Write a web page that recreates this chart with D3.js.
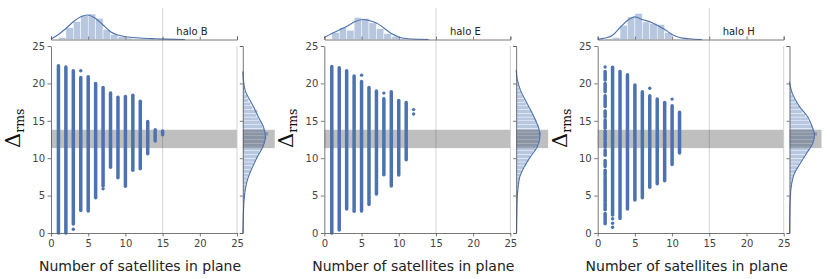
<!DOCTYPE html>
<html>
<head>
<meta charset="utf-8">
<script src="https://cdn.jsdelivr.net/npm/d3@7"></script>
<style>
    body { margin: 0; background: #fff; }
    svg text { font-family: "DejaVu Sans", sans-serif; }
    .axis path, .axis line { stroke: #555; stroke-width: 0.8; }
    .axis text { fill: #444; font-size: 10px; }
</style>
</head>
<body>
<svg id="chart" width="830" height="279"></svg>
<script>
const halos = ['halo B', 'halo E', 'halo H'];
const ticks = [0, 5, 10, 15, 20, 25];
const band = [11.35, 13.8];
const refLine = 15;

// vertical strips: [satellites, lowest Δrms, highest Δrms]
const strips = [
    [[1, 0, 22.35], [2, 0, 22.2], [3, 1.2, 21.7], [4, 3.0, 20.8], [5, 2.95, 20.9], [6, 4.7, 20.0],
     [7, 6.3, 19.45], [8, 8.8, 18.7], [9, 7.4, 18.15], [10, 6.25, 18.25], [11, 8.4, 18.4],
     [12, 8.6, 17.6], [13, 10.6, 14.9], [14, 12.3, 13.8], [15, 13.15, 13.65]],
    [[1, 0, 22.25], [2, 0.4, 22.1], [3, 3.2, 21.7], [4, 2.9, 21.0], [5, 2.95, 20.25], [6, 3.8, 19.45],
     [7, 5.2, 19.0], [8, 7.8, 17.95], [9, 6.3, 18.9], [10, 7.75, 17.7], [11, 9.8, 17.45]],
    [[1, 20.45, 21.6], [1, 18.9, 20.0], [1, 16.9, 18.35], [1, 15.5, 16.3], [1, 14.0, 15.1],
     [1, 12.5, 13.6], [1, 11.5, 12.2], [1, 10.4, 11.1], [1, 8.9, 9.7], [1, 7.75, 8.4],
     [1, 6.6, 7.5], [1, 5.3, 6.4], [1, 4.2, 5.1], [1, 3.1, 3.95], [1, 1.96, 2.6], [1, 1.25, 1.74],
     [2, 2.4, 22.15], [3, 1.95, 21.6], [4, 3.2, 21.15], [5, 4.4, 19.8], [6, 4.7, 18.9],
     [7, 6.1, 18.35], [8, 6.6, 17.9], [9, 7.0, 17.45], [10, 9.15, 17.0], [11, 10.7, 16.15]]
];

// single points away from the strips: [satellites, Δrms]
const dots = [
    [[3, 0.5], [4, 21.7], [7, 5.9]],
    [[5, 21.1], [8, 18.7], [12, 16.5], [12, 15.9]],
    [[1, 22.2], [2, 1.9], [2, 1.3], [2, 0.76], [7, 19.35], [10, 17.9]]
];

// top marginal histogram, bins of width 1 starting at 1 (relative density)
const topHist = [
    [2.2, 11.8, 17.8, 23.8, 25.5, 21.2, 10.2, 5.2, 2.8, 1.5, 1.0, 0.7, 0.5, 0.3],
    [7, 12, 9.3, 22, 21, 16.6, 11, 6, 3, 1],
    [0.5, 2, 14.3, 22.6, 26, 17.6, 16, 15, 7, 0.5]
];

// top marginal kde: [satellites, density]
const topKde = [
    [[0, 0.5], [1, 5], [2, 11], [3, 17.8], [4, 22.8], [4.9, 24.5], [6, 21], [7, 14.5], [8, 7.8],
     [9, 4.5], [10, 2.8], [12, 1.5], [14, 0.8], [15.5, 0.4], [18, 0]],
    [[0, 2], [1, 6], [2, 9.5], [3, 13], [4, 17.5], [5.2, 20], [6, 19], [7, 16.5], [8, 11.5],
     [9, 6], [10, 2.6], [11, 1], [12.8, 0.2], [14, 0]],
    [[0, 0.3], [1, 1.5], [2, 4.3], [3, 12], [4, 19], [5, 22.6], [6, 20], [7, 17.7], [8, 14.3],
     [9, 10], [10, 5], [11, 2], [12.3, 0.7], [14, 0]]
];

// right marginal histogram, bins of width 0.5 starting at 0 (relative density)
const sideHist = [
    [0.3, 0.4, 0.5, 0.5, 0.6, 0.8, 0.9, 1.0, 1.2, 1.5, 1.9, 2.4, 3.0, 3.8, 4.8, 6.0, 7.5, 9.0,
     11.0, 12.8, 15.0, 17.0, 19.0, 20.8, 22.0, 23.5, 25.5, 21.5, 20.0, 18.0, 16.0, 14.0, 14.8,
     10.0, 8.0, 6.0, 4.5, 3.0, 2.0, 1.4, 0.9, 0.6, 0.4, 0.3],
    [0.3, 0.3, 0.4, 0.5, 0.6, 0.6, 0.7, 0.8, 0.9, 1.1, 1.3, 1.6, 2.0, 2.6, 3.2, 4.2, 5.8, 7.8,
     10, 12.2, 14.6, 17, 19.6, 21.8, 23, 24, 25, 23.4, 22.4, 20.6, 19, 17, 15, 12.8, 10.6, 8.6,
     6.8, 5, 3.8, 2.6, 1.6, 1, 0.5, 0.3],
    [0.1, 0.2, 0.2, 0.2, 0.3, 0.3, 0.4, 0.4, 0.6, 0.8, 1.0, 1.3, 1.8, 2.4, 3.2, 4.2, 5.8, 7.6,
     10.2, 12.6, 15, 17.6, 19.8, 22.2, 23.6, 25, 27.6, 24, 22.6, 20.4, 18.6, 16, 13, 10.4, 7.8,
     5.6, 3.8, 2.4, 1.4, 0.8, 0.4, 0.2, 0.1, 0]
];

// right marginal kde: [Δrms, density]
const sideKde = [
    [[0, 0], [2.2, 0.5], [4.4, 1.3], [6.2, 3], [7.5, 5.6], [8.9, 10], [10.2, 14.6], [11.5, 20],
     [12.9, 22.6], [14.2, 20.6], [15.5, 15.6], [16.9, 10.6], [19.1, 2.3], [20.5, 0.6], [21.6, 0]],
    [[0, 0.3], [2, 0.6], [4.4, 1], [6.2, 2], [7.5, 3.6], [8.9, 8.3], [10.2, 14.3], [11.5, 21],
     [12.7, 23.6], [13.8, 23], [15.1, 19.3], [16.9, 12.6], [19.1, 4.3], [20.5, 1.2], [21.8, 0]],
    [[0, 0], [2, 0.2], [4.4, 0.7], [6.2, 1.7], [8, 5], [9.3, 10.7], [10.7, 17.3], [12, 23.3],
     [13.1, 25], [14.2, 22.7], [15.5, 18.3], [16.9, 10], [18.7, 2.7], [20.2, 0]]
];

const BLUE = '#4c72b0';
const W = 186;
const STEP = 273.35;
const TOP = 46, BOTTOM = 233;

const svg = d3.select('#chart');

drawPanel = (i) => {
    const x0 = 51 + i * STEP;
    const spineX = x0 + W + 5.8;
    const g = svg.append('g').classed('panel', true);

    const x = d3.scaleLinear().domain([0, 25]).range([x0, x0 + W]);
    const y = d3.scaleLinear().domain([0, 25]).range([BOTTOM, TOP]);
    const topY = d3.scaleLinear().domain([0, 32]).range([39.5, 7.5]);
    const sideX = d3.scaleLinear().domain([0, 32]).range([spineX, spineX + 32]);

    // reference line
    g.append('line')
        .attr('x1', x(refLine)).attr('x2', x(refLine))
        .attr('y1', 8).attr('y2', BOTTOM)
        .attr('stroke', '#d4d4d4').attr('stroke-width', 1);

    // top marginal
    g.append('g').selectAll('rect')
        .data(topHist[i])
        .enter()
        .append('rect')
        .attr('x', (d, k) => x(1 + k))
        .attr('width', x(1) - x(0))
        .attr('y', d => topY(d))
        .attr('height', d => topY(0) - topY(d))
        .attr('fill', BLUE).attr('fill-opacity', 0.4)
        .attr('stroke', '#fff').attr('stroke-width', 0.5);

    g.append('path')
        .datum(topKde[i])
        .attr('fill', 'none')
        .attr('stroke', BLUE).attr('stroke-width', 1.1)
        .attr('d', d3.line().x(d => x(d[0])).y(d => topY(d[1])).curve(d3.curveMonotoneX));

    g.append('g')
        .classed('axis', true)
        .attr('transform', `translate(0, ${topY(0)})`)
        .call(d3.axisTop(x).tickValues(ticks).tickFormat('').tickSize(3).tickSizeOuter(3));

    g.append('text')
        .attr('x', x0 + 141).attr('y', 34.5)
        .attr('text-anchor', 'middle')
        .attr('font-size', 10).attr('fill', '#222')
        .text(halos[i]);

    // band behind the points
    g.append('rect')
        .attr('x', x(0)).attr('width', x(25) - x(0))
        .attr('y', y(band[1])).attr('height', y(band[0]) - y(band[1]))
        .attr('fill', '#000').attr('fill-opacity', 0.25);

    // strips
    g.append('g').selectAll('line')
        .data(strips[i])
        .enter()
        .append('line')
        .attr('x1', d => x(d[0])).attr('x2', d => x(d[0]))
        .attr('y1', d => y(d[1])).attr('y2', d => y(d[2]))
        .attr('stroke', BLUE).attr('stroke-width', 3.5)
        .attr('stroke-linecap', 'round');

    g.append('g').selectAll('circle')
        .data(dots[i])
        .enter()
        .append('circle')
        .attr('cx', d => x(d[0])).attr('cy', d => y(d[1]))
        .attr('r', 1.7)
        .attr('fill', BLUE);

    // main axes
    g.append('g')
        .classed('axis', true)
        .attr('transform', `translate(${x0}, 0)`)
        .call(d3.axisLeft(y).tickValues(ticks).tickSize(3.5).tickPadding(2.5).tickSizeOuter(0));

    g.append('g')
        .classed('axis', true)
        .attr('transform', `translate(0, ${BOTTOM})`)
        .call(d3.axisBottom(x).tickValues(ticks).tickSize(3.5).tickPadding(3.5).tickSizeOuter(0));

    g.append('line')
        .attr('x1', x(25)).attr('x2', x(25))
        .attr('y1', TOP).attr('y2', BOTTOM)
        .attr('stroke', '#c8c8c8').attr('stroke-width', 0.8);

    // right marginal
    g.append('g').selectAll('rect')
        .data(sideHist[i])
        .enter()
        .append('rect')
        .attr('x', spineX)
        .attr('width', d => sideX(d) - spineX)
        .attr('y', (d, k) => y((k + 1) * 0.5))
        .attr('height', y(0) - y(0.5))
        .attr('fill', BLUE).attr('fill-opacity', 0.4)
        .attr('stroke', '#fff').attr('stroke-width', 0.4);

    g.append('rect')
        .attr('x', spineX).attr('width', 32)
        .attr('y', y(band[1])).attr('height', y(band[0]) - y(band[1]))
        .attr('fill', '#000').attr('fill-opacity', 0.25);

    g.append('path')
        .datum(sideKde[i])
        .attr('fill', 'none')
        .attr('stroke', BLUE).attr('stroke-width', 1.1)
        .attr('d', d3.line().x(d => sideX(d[1])).y(d => y(d[0])).curve(d3.curveMonotoneY));

    g.append('g')
        .classed('axis', true)
        .attr('transform', `translate(${spineX}, 0)`)
        .call(d3.axisLeft(y).tickValues(ticks).tickFormat('').tickSize(3).tickSizeOuter(3));

    // labels
    g.append('text')
        .attr('x', x0 + 89).attr('y', 270.7)
        .attr('text-anchor', 'middle')
        .attr('font-size', 14).attr('fill', '#222')
        .text('Number of satellites in plane');

    const yl = g.append('text')
        .attr('transform', `translate(${x0 - 31}, 148) rotate(-90)`)
        .attr('fill', '#111');
    yl.append('tspan')
        .style('font-family', '"DejaVu Serif", serif')
        .attr('font-size', 21)
        .text('Δ');
    yl.append('tspan')
        .style('font-family', '"DejaVu Serif", serif')
        .attr('font-size', 12.5)
        .attr('dy', 4)
        .text('rms');
};

init = () => {
    halos.forEach((h, i) => drawPanel(i));
};

init();
</script>
</body>
</html>
